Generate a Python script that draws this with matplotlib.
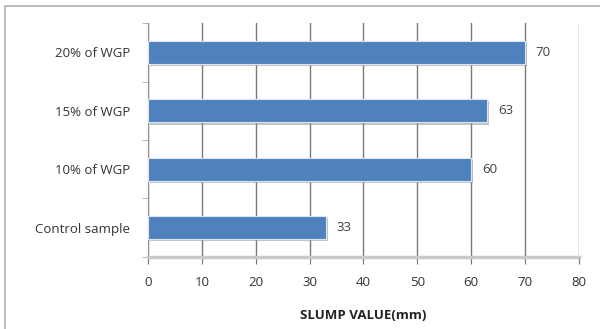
import matplotlib
matplotlib.use('Agg')
import matplotlib.pyplot as plt
import matplotlib.patheffects as pe
from matplotlib.patches import Rectangle
import numpy as np

# data
categories = ['Control sample', '10% of WGP', '15% of WGP', '20% of WGP']
slump = [33, 60, 63, 70]
xticks = [0, 10, 20, 30, 40, 50, 60, 70, 80]

plt.rcParams['font.family'] = ['Open Sans', 'DejaVu Sans']

fig = plt.figure(figsize=(6, 3.29), dpi=100)
ax = fig.add_axes([0.2467, 0.219, 0.718, 0.711])

# outer chart frame
fig.patches.append(Rectangle((5/600, -0.1), 1.2, 1 - 6/329 + 0.1, transform=fig.transFigure,
                             fill=False, edgecolor='#b0b0b0', linewidth=1.2))

y = np.arange(len(categories))
bars = ax.barh(y, slump, height=0.4, color='#4f81bd', edgecolor='#dce6f2', linewidth=0.8, zorder=3)
for b in bars:
    b.set_path_effects([pe.SimplePatchShadow(offset=(1.5, -1.5), shadow_rgbFace='#999999', alpha=0.6), pe.Normal()])

for yi, v in zip(y, slump):
    ax.text(v + 2.0, yi, str(v), va='center', ha='left', fontsize=9.5, color='#404040')

ax.set_xlim(0, 80)
ax.set_ylim(-0.5, len(categories) - 0.5)
ax.set_xticks(xticks)
ax.set_yticks(y)
ax.set_yticklabels(categories, fontsize=9.5, color='#333333')
ax.tick_params(axis='y', length=0, pad=13)
ax.tick_params(axis='x', length=5, color='#707070', labelsize=9.5, labelcolor='#333333', pad=9)
# category boundary ticks on the left axis
ax.set_yticks(np.arange(-0.5, len(categories), 1), minor=True)
ax.tick_params(axis='y', which='minor', length=4, color='#b0b0b0')

ax.grid(axis='x', color='#7a7a7a', linewidth=1.0, zorder=0)
for s in ['top', 'right']:
    ax.spines[s].set_visible(False)
ax.spines['left'].set_color('#909090')
ax.spines['bottom'].set_color('#c8c8c8')
ax.spines['bottom'].set_linewidth(2.5)
ax.set_xlabel('SLUMP VALUE(mm)', fontsize=9.5, fontweight='bold', color='#222222', labelpad=14)

fig.savefig('out.png', dpi=100)
